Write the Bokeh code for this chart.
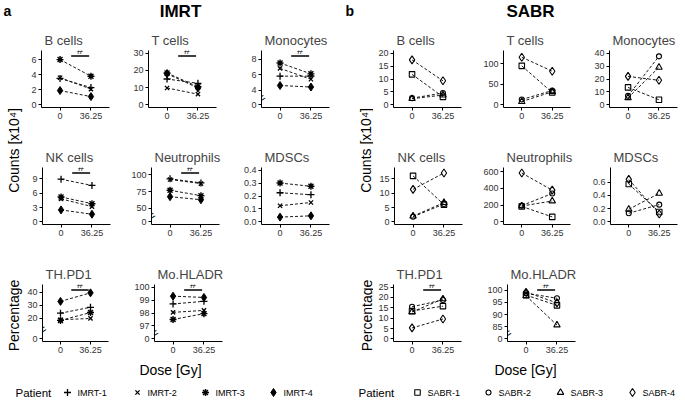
from math import pi
from bokeh.plotting import figure
from bokeh.layouts import row, column
from bokeh.models import Range1d, FactorRange, FixedTicker, Label
from bokeh.core.properties import value
from bokeh.embed import file_html
from bokeh.resources import INLINE

# ---------------- data ----------------
DOSES = ["0", "36.25"]
IMRT_PATIENTS = ["IMRT-1", "IMRT-2", "IMRT-3", "IMRT-4"]
SABR_PATIENTS = ["SABR-1", "SABR-2", "SABR-3", "SABR-4"]

# one [0 Gy, 36.25 Gy] pair per patient
imrt_b_cells = [[3.5, 2.3], [3.6, 2.1], [6.0, 3.8], [1.9, 1.1]]
imrt_t_cells = [[15.0, 12.5], [9.8, 6.2], [18.5, 10.5], [18.0, 9.8]]
imrt_monocytes = [[5.8, 5.8], [6.8, 5.4], [7.5, 6.1], [4.6, 4.4]]
imrt_nk_cells = [[8.9, 7.6], [4.8, 3.2], [5.2, 3.8], [2.5, 1.6]]
imrt_neutrophils = [[94, 88], [93, 87], [77, 69], [67.5, 63]]
imrt_mdscs = [[0.225, 0.21], [0.125, 0.15], [0.30, 0.275], [0.037, 0.047]]
imrt_th_pd1 = [[24, 28.5], [19, 20], [18.5, 24.5], [33, 39.5]]
imrt_mo_hladr = [[98.7, 98.9], [98.05, 98.2], [97.5, 97.95], [99.3, 99.2]]

sabr_b_cells = [[11.8, 3.1], [2.6, 4.6], [2.4, 3.8], [17.4, 9.3]]
sabr_t_cells = [[95, 30], [13, 35], [8, 32], [116, 82]]
sabr_monocytes = [[13.5, 4.0], [7.0, 37.5], [5.5, 29.0], [22.0, 19.0]]
sabr_nk_cells = [[16.0, 6.0], [1.8, 6.2], [2.0, 6.7], [11.3, 17.0]]
sabr_neutrophils = [[185, 60], [195, 340], [190, 250], [585, 380]]
sabr_mdscs = [[0.57, 0.15], [0.13, 0.26], [0.19, 0.43], [0.64, 0.12]]
sabr_th_pd1 = [[13.5, 15.8], [15.5, 18.8], [13.0, 19.3], [5.3, 9.6]]
sabr_mo_hladr = [[98.0, 93.8], [98.8, 96.7], [97.7, 85.7], [99.2, 94.8]]

# y-axis ticks
imrt_b_cells_ticks = [0, 2, 4, 6]
imrt_t_cells_ticks = [0, 10, 20, 30]
imrt_monocytes_ticks = [4, 6, 8]
imrt_nk_cells_ticks = [0, 3, 6, 9]
imrt_neutrophils_ticks = [50, 75, 100]
imrt_mdscs_ticks = [0, 0.1, 0.2, 0.3, 0.4]
imrt_th_pd1_ticks = [20, 30, 40]
imrt_mo_hladr_ticks = [97, 98, 99, 100]
sabr_b_cells_ticks = [0, 5, 10, 15, 20]
sabr_t_cells_ticks = [0, 50, 100]
sabr_monocytes_ticks = [0, 10, 20, 30, 40]
sabr_nk_cells_ticks = [0, 5, 10, 15]
sabr_neutrophils_ticks = [0, 200, 400, 600]
sabr_mdscs_ticks = [0, 0.2, 0.4, 0.6]
sabr_th_pd1_ticks = [0, 5, 10, 15, 20, 25]
sabr_mo_hladr_ticks = [85, 90, 95, 100]

# ---------------- style ----------------
FONT = "Liberation Sans"
FRAME_W, FRAME_H, TOP = 68, 57, 28
ROW_H = [117, 117, 101]
HEAD_H, FOOT_H = 22, 42

IMRT_STYLES = [
    dict(marker="cross", size=7, line_color="black", line_width=1.3),
    dict(marker="x", size=6, line_color="black", line_width=1.3),
    dict(marker="asterisk", size=7, line_color="black", line_width=1.4),
    dict(marker="diamond", size=8, line_color="black", fill_color="black"),
]
SABR_STYLES = [
    dict(marker="square", size=5.5, line_color="black", fill_color=None, line_width=1.1),
    dict(marker="circle", size=5, line_color="black", fill_color=None, line_width=1.1),
    dict(marker="triangle", size=6.5, line_color="black", fill_color=None, line_width=1.1),
    dict(marker="diamond", size=8, line_color="black", fill_color=None, line_width=1.1),
]


def fmt(v, dec):
    return f"{v:.{dec}f}"


def sub(title, vals, ticks, b, t, w, mbl, h, styles, sig=False, broken=False, dec=0):
    lo = b - 0.05 * (t - b)
    hi = t + 0.05 * (t - b)
    p = figure(width=w, height=h,
               x_range=FactorRange(factors=DOSES, range_padding=0.1,
                                   range_padding_units="absolute"),
               y_range=Range1d(lo, hi), output_backend="svg", toolbar_location=None,
               min_border_left=mbl, min_border_right=w - mbl - FRAME_W,
               min_border_top=TOP, min_border_bottom=h - TOP - FRAME_H,
               outline_line_color=None, title=title)
    p.title.text_font = FONT
    p.title.text_font_size = "13px"
    p.title.text_font_style = "normal"
    p.title.offset = 3
    p.title.standoff = 6
    p.xgrid.visible = False
    p.ygrid.visible = False
    for ax in (p.xaxis[0], p.yaxis[0]):
        ax.axis_line_color = "black"
        ax.axis_line_width = 1
        ax.major_tick_line_color = "black"
        ax.major_tick_out = 3
        ax.major_tick_in = 0
        ax.minor_tick_out = 0
        ax.minor_tick_in = 0
        ax.major_label_text_font = FONT
        ax.major_label_text_font_size = "9px"
        ax.major_label_text_color = "#333333"
        ax.major_label_standoff = 2
    all_ticks = ([b] if broken else []) + list(ticks)
    all_labels = (["0"] if broken else []) + [fmt(v, dec) for v in ticks]
    p.yaxis.ticker = FixedTicker(ticks=all_ticks, minor_ticks=[])
    p.yaxis.major_label_overrides = dict(zip(all_ticks, all_labels))

    for v in vals:
        p.line(x=DOSES, y=v, line_color="black", line_width=0.9, line_dash="3 2")
    for v, st in zip(vals, styles):
        p.scatter(x=DOSES, y=v, **st)

    if sig:
        ybar = hi - (hi - lo) * 5.5 / FRAME_H
        p.segment(x0=[0.86], y0=[ybar], x1=[1.44], y1=[ybar], line_color="black", line_width=1.3)
        p.text(x=[1.15], y=[ybar], text=["#"], text_align="center", text_baseline="bottom",
               text_font=value(FONT), text_font_size="11px", y_offset=0)
    if broken:
        yb = b + 0.45 * (ticks[0] - b)
        p.add_layout(Label(x=-0.1, y=yb, text="=", angle=0.55, text_align="center",
                           text_baseline="middle", text_font=FONT, text_font_size="13px",
                           text_color="black"))
    return p


def blank(w, h):
    p = figure(width=w, height=h, x_range=Range1d(0, w), y_range=Range1d(h, 0),
               output_backend="svg", toolbar_location=None, min_border=0,
               min_border_left=0, min_border_right=0, min_border_top=0, min_border_bottom=0,
               x_axis_type=None, y_axis_type=None, outline_line_color=None,
               title_location=None)
    p.xgrid.visible = False
    p.ygrid.visible = False
    return p


def lbl(p, x, y, text, size, bold=False, angle=0, align="center", baseline="middle"):
    p.add_layout(Label(x=x, y=y, text=text, angle=angle, text_align=align,
                       text_baseline=baseline, text_font=FONT, text_font_size=size,
                       text_font_style="bold" if bold else "normal", text_color="black"))


# ---------------- panel a (IMRT) ----------------
a_rows = [
    row(sub("B cells", imrt_b_cells, imrt_b_cells_ticks, 0, 6.86, 104, 17, ROW_H[0], IMRT_STYLES, sig=True),
        sub("T cells", imrt_t_cells, imrt_t_cells_ticks, 0, 30, 108, 20, ROW_H[0], IMRT_STYLES, sig=True),
        sub("Monocytes", imrt_monocytes, imrt_monocytes_ticks, 2.1, 8.77, 104, 25, ROW_H[0], IMRT_STYLES, sig=True, broken=True)),
    row(sub("NK cells", imrt_nk_cells, imrt_nk_cells_ticks, 0, 10.8, 104, 18, ROW_H[1], IMRT_STYLES, sig=True),
        sub("Neutrophils", imrt_neutrophils, imrt_neutrophils_ticks, 30, 107, 108, 23, ROW_H[1], IMRT_STYLES, sig=True, broken=True),
        sub("MDSCs", imrt_mdscs, imrt_mdscs_ticks, 0, 0.4, 104, 25, ROW_H[1], IMRT_STYLES, dec=1)),
    row(sub("TH.PD1", imrt_th_pd1, imrt_th_pd1_ticks, 4.4, 43.9, 104, 16, ROW_H[2], IMRT_STYLES, sig=True, broken=True),
        sub("Mo.HLADR", imrt_mo_hladr, imrt_mo_hladr_ticks, 96, 100, 108, 26, ROW_H[2], IMRT_STYLES, sig=True, broken=True)),
]

# ---------------- panel b (SABR) ----------------
b_rows = [
    row(sub("B cells", sabr_b_cells, sabr_b_cells_ticks, 0, 20, 107, 20, ROW_H[0], SABR_STYLES),
        sub("T cells", sabr_t_cells, sabr_t_cells_ticks, 0, 126, 109, 22, ROW_H[0], SABR_STYLES),
        sub("Monocytes", sabr_monocytes, sabr_monocytes_ticks, 0, 40, 95, 20, ROW_H[0], SABR_STYLES)),
    row(sub("NK cells", sabr_nk_cells, sabr_nk_cells_ticks, 0, 18, 107, 21, ROW_H[1], SABR_STYLES),
        sub("Neutrophils", sabr_neutrophils, sabr_neutrophils_ticks, 0, 620, 109, 22, ROW_H[1], SABR_STYLES),
        sub("MDSCs", sabr_mdscs, sabr_mdscs_ticks, 0, 0.78, 95, 20, ROW_H[1], SABR_STYLES, dec=1)),
    row(sub("TH.PD1", sabr_th_pd1, sabr_th_pd1_ticks, 0, 25, 107, 20, ROW_H[2], SABR_STYLES, sig=True),
        sub("Mo.HLADR", sabr_mo_hladr, sabr_mo_hladr_ticks, 80, 101.3, 109, 27, ROW_H[2], SABR_STYLES, sig=True, broken=True)),
]

GRID_H = sum(ROW_H)
A_W, B_W = 340, 344

# headers
head_a = blank(A_W, HEAD_H)
lbl(head_a, 3, 10, "a", "14px", bold=True, align="left")
lbl(head_a, 180, 11, "IMRT", "17px", bold=True)
head_b = blank(B_W, HEAD_H)
lbl(head_b, 5, 10, "b", "14px", bold=True, align="left")
lbl(head_b, 190, 11, "SABR", "17px", bold=True)

# y labels
ylab_a = blank(24, GRID_H)
lbl(ylab_a, 13, 128, "Counts [x10\u2074]", "14px", angle=pi / 2)
lbl(ylab_a, 13, 293, "Percentage", "14px", angle=pi / 2)
ylab_b = blank(33, GRID_H)
lbl(ylab_b, 25, 128, "Counts [x10\u2074]", "14px", angle=pi / 2)
lbl(ylab_b, 26, 293, "Percentage", "14px", angle=pi / 2)


# footers: x label + legend
def footer(w, dose_x, patient_x, mark_xs, names, styles):
    p = blank(w, FOOT_H)
    lbl(p, dose_x, 12, "Dose [Gy]", "14px")
    lbl(p, patient_x, 35, "Patient", "11.5px", align="left")
    for mx, nm, st in zip(mark_xs, names, styles):
        p.scatter(x=[mx], y=[35], **st)
    p.text(x=[mx + 10 for mx in mark_xs], y=[35] * len(names), text=names,
           text_baseline="middle", text_align="left", text_font=value(FONT),
           text_font_size="9px", text_color="black")
    return p


foot_a = footer(A_W, 170, 15, [67, 137, 205, 273], IMRT_PATIENTS, IMRT_STYLES)
foot_b = footer(B_W, 185, 18, [77, 148, 220, 292], SABR_PATIENTS, SABR_STYLES)

layout = column(
    row(head_a, head_b),
    row(ylab_a, column(*a_rows), ylab_b, column(*b_rows)),
    row(foot_a, foot_b),
)

open("out.html", "w").write(file_html(layout, INLINE, "IMRT vs SABR"))
